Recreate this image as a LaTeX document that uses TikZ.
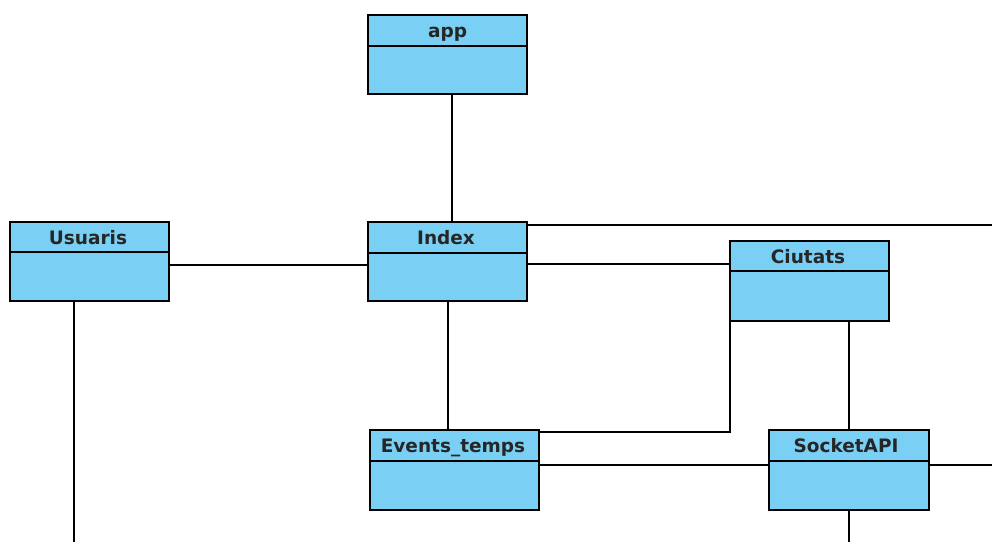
\documentclass[tikz,border=0pt]{standalone}
\usepackage{fontspec}
\setmainfont{DejaVu Sans}
\definecolor{clsfill}{RGB}{122,207,244}
\begin{document}
\begin{tikzpicture}[x=1pt,y=-1pt,
  cls/.style={draw=black,fill=clsfill,line width=1.4pt,inner sep=0pt},
  conn/.style={draw=black,line width=1.3pt},
  lbl/.style={font=\bfseries\fontsize{18.5}{20}\selectfont,anchor=base,inner sep=0pt,text=black!85}]
\useasboundingbox (0,0) rectangle (992,542);
\newcommand{\umlclass}[6]{%
  \path[cls] (#2,#3) rectangle (#4,#5);
  \draw[line width=1.4pt] (#2,#6) -- (#4,#6);
  \coordinate (#1-nw) at (#2,#3);
  \coordinate (#1-se) at (#4,#5);
}
% connectors (behind boxes)
\coordinate (appB) at (452,94);
\coordinate (idxT) at (452,222);
\draw[conn] (appB) -- (idxT);
\coordinate (usR) at (169,265);
\coordinate (idxL) at (368,265);
\draw[conn] (usR) -- (idxL);
\coordinate (idxR1) at (527,225);
\coordinate (edgeR1) at (992,225);
\draw[conn] (idxR1) -- (edgeR1);
\coordinate (idxR2) at (527,264);
\coordinate (ciL) at (730,264);
\draw[conn] (idxR2) -- (ciL);
\coordinate (idxB) at (448,301);
\coordinate (evT) at (448,430);
\draw[conn] (idxB) -- (evT);
\coordinate (ciB1) at (730,321);
\coordinate (evR1) at (539,432);
\draw[conn] (ciB1) -- (730,432) -- (evR1);
\coordinate (ciB2) at (849,321);
\coordinate (soT) at (849,430);
\draw[conn] (ciB2) -- (soT);
\coordinate (evR2) at (539,465);
\coordinate (soL) at (769,465);
\draw[conn] (evR2) -- (soL);
\coordinate (soR) at (929,465);
\coordinate (edgeR2) at (992,465);
\draw[conn] (soR) -- (edgeR2);
\coordinate (soB) at (849,510);
\coordinate (edgeB2) at (849,542);
\draw[conn] (soB) -- (edgeB2);
\coordinate (usB) at (74,301);
\coordinate (edgeB1) at (74,542);
\draw[conn] (usB) -- (edgeB1);
% boxes
\umlclass{app}{368}{15}{527}{94}{46}
\node[lbl] (appn) at (447.5,37.5) {app};
\umlclass{us}{10}{222}{169}{301}{252}
\node[lbl] (usn) at (88,244) {Usuaris};
\umlclass{idx}{368}{222}{527}{301}{253}
\node[lbl] (idxn) at (446,244.5) {Index};
\umlclass{ci}{730}{241}{889}{321}{271}
\node[lbl] (cin) at (808,263) {Ciutats};
\umlclass{ev}{370}{430}{539}{510}{461}
\node[lbl] (evn) at (453,452.5) {Events\_temps};
\umlclass{so}{769}{430}{929}{510}{461}
\node[lbl] (son) at (846,452.5) {SocketAPI};
\end{tikzpicture}
\end{document}
